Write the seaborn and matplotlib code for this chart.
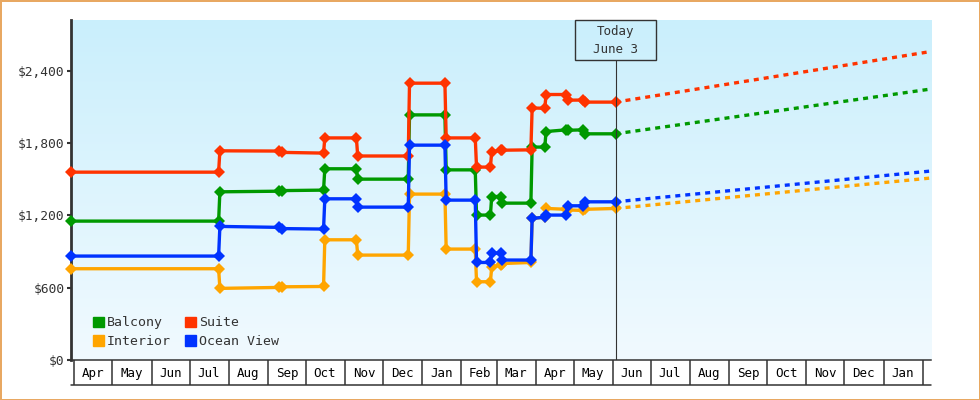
import numpy as np
import pandas as pd
import matplotlib
matplotlib.use("Agg")
import matplotlib.pyplot as plt
import matplotlib.dates as mdates
import matplotlib.patches as mpatches
from matplotlib.ticker import FuncFormatter
import seaborn as sns

sns.set_style("white")
plt.rcParams['font.family'] = ['DejaVu Sans Mono', 'DejaVu Sans']
plt.rcParams['font.size'] = 9

# price history (dates shared by all cabin types)
dates = ['2013-03-29', '2013-07-24', '2013-07-25', '2013-09-10', '2013-09-12', '2013-10-15',
         '2013-10-16', '2013-11-10', '2013-11-11', '2013-12-21', '2013-12-22', '2014-01-19',
         '2014-01-20', '2014-02-12', '2014-02-13', '2014-02-24', '2014-02-25', '2014-03-04',
         '2014-03-05', '2014-03-28', '2014-03-29', '2014-04-08', '2014-04-09', '2014-04-25',
         '2014-04-26', '2014-05-08', '2014-05-10', '2014-06-03']

balcony = [1152, 1152, 1395, 1400, 1405, 1409, 1586, 1586, 1500, 1500, 2033, 2033, 1577, 1577,
           1202, 1202, 1356, 1356, 1301, 1301, 1766, 1766, 1895, 1909, 1905, 1909, 1876, 1876]
suite = [1558, 1558, 1735, 1733, 1722, 1716, 1842, 1842, 1692, 1692, 2296, 2296, 1842, 1842,
         1600, 1600, 1727, 1738, 1740, 1743, 2090, 2088, 2202, 2202, 2155, 2156, 2139, 2139]
interior = [757, 757, 594, 602, 607, 610, 997, 997, 870, 870, 1376, 1376, 920, 920,
            649, 649, 771, 788, 800, 809, 1174, 1185, 1257, 1250, 1245, 1240, 1250, 1257]
ocean_view = [862, 862, 1108, 1100, 1090, 1086, 1337, 1337, 1268, 1268, 1782, 1782, 1326, 1326,
              809, 809, 887, 887, 829, 829, 1174, 1185, 1202, 1202, 1279, 1279, 1312, 1312]

# projection to the end of the window
proj_dates = ['2014-06-03', '2015-02-07']
proj_end = {'Balcony': 2247, 'Suite': 2558, 'Interior': 1509, 'Ocean View': 1567}

today = '2014-06-03'
today_label = 'Today\nJune 3'
x_start, x_end = '2013-03-29', '2015-02-07 06:00'

series = {'Balcony': balcony, 'Suite': suite, 'Interior': interior, 'Ocean View': ocean_view}
colors = {'Balcony': '#009900', 'Suite': '#ff3300', 'Interior': '#ffa500', 'Ocean View': '#0033ff'}
ink = '#333333'

fig = plt.figure(figsize=(9.8, 4), dpi=100)
fig.patch.set_facecolor('white')
fig.patch.set_edgecolor('#e8a862')
fig.patch.set_linewidth(2)
ax = fig.add_axes([70.7 / 980, 0.1, 860 / 980, 0.85])

# gradient background
top = np.array([202, 239, 252]) / 255
bottom = np.array([241, 250, 255]) / 255
t = np.linspace(0, 1, 256)[:, None]
grad = (top * (1 - t) + bottom * t)[:, None, :]
ax.imshow(grad, extent=[0, 1, 0, 1], transform=ax.transAxes, aspect='auto', zorder=0)

dt = pd.to_datetime(pd.Series(dates))
pdt = pd.to_datetime(pd.Series(proj_dates))
for name in ['Interior', 'Balcony', 'Suite', 'Ocean View']:
    vals = series[name]
    sns.lineplot(x=pdt, y=[vals[-1], proj_end[name]], ax=ax, color=colors[name], lw=2.4,
                 linestyle=(0, (1.5, 1.5)), estimator=None, sort=False, zorder=3)
    sns.lineplot(x=dt, y=vals, ax=ax, color=colors[name], lw=2.4, marker='D', markersize=6,
                 markeredgewidth=0, estimator=None, sort=False, zorder=4, clip_on=False)

ax.set_xlim(pd.Timestamp(x_start), pd.Timestamp(x_end))
ax.set_ylim(0, 2820)

# today marker
tnum = mdates.date2num(pd.Timestamp(today))
ax.plot([tnum, tnum], [0, 0.882], transform=ax.get_xaxis_transform(), color=ink, lw=0.8, zorder=5)
ax.add_patch(mpatches.Rectangle((tnum - 31.8, 0.882), 63.6, 0.118, transform=ax.get_xaxis_transform(),
                                fill=False, ec=ink, lw=1, zorder=5, clip_on=False))
ax.text(tnum, 0.939, today_label, transform=ax.get_xaxis_transform(), ha='center', va='center',
        multialignment='center', color=ink, fontsize=9, linespacing=1.55, zorder=6)

# axes styling
ax.yaxis.set_major_locator(plt.FixedLocator([0, 600, 1200, 1800, 2400]))
ax.yaxis.set_major_formatter(FuncFormatter(lambda v, p: f'${v:,.0f}'))
ax.tick_params(axis='y', left=True, length=3, width=1.5, color=ink, labelcolor=ink, pad=1.5,
               labelsize=9.3)

ax.xaxis.set_major_locator(mdates.MonthLocator())
ax.xaxis.set_major_formatter(plt.NullFormatter())
ax.xaxis.set_minor_locator(mdates.MonthLocator(bymonthday=16))
ax.xaxis.set_minor_formatter(mdates.DateFormatter('%b'))
ax.tick_params(axis='x', which='major', bottom=True, length=18, width=1.1, color=ink, direction='out')
ax.tick_params(axis='x', which='minor', bottom=True, length=0, pad=5, labelcolor='black', labelsize=9)
ax.plot([0, 1], [-25 / 340] * 2, transform=ax.transAxes, color=ink, lw=1.1, clip_on=False)

for s in ['top', 'right']:
    ax.spines[s].set_visible(False)
ax.spines['left'].set_linewidth(2)
ax.spines['left'].set_color(ink)
ax.spines['bottom'].set_linewidth(1.1)
ax.spines['bottom'].set_color(ink)
ax.set_xlabel('')
ax.set_ylabel('')

handles = [mpatches.Patch(color=colors[n], label=n) for n in ['Balcony', 'Interior', 'Suite', 'Ocean View']]
ax.legend(handles=handles, ncol=2, loc='lower left', bbox_to_anchor=(0.026, 0.035), frameon=False,
          handlelength=0.8, handleheight=0.8, handletextpad=0.25, columnspacing=1.1,
          labelspacing=0.45, borderpad=0, borderaxespad=0, labelcolor=ink, fontsize=9.5)

fig.savefig('out.png', dpi=100)
